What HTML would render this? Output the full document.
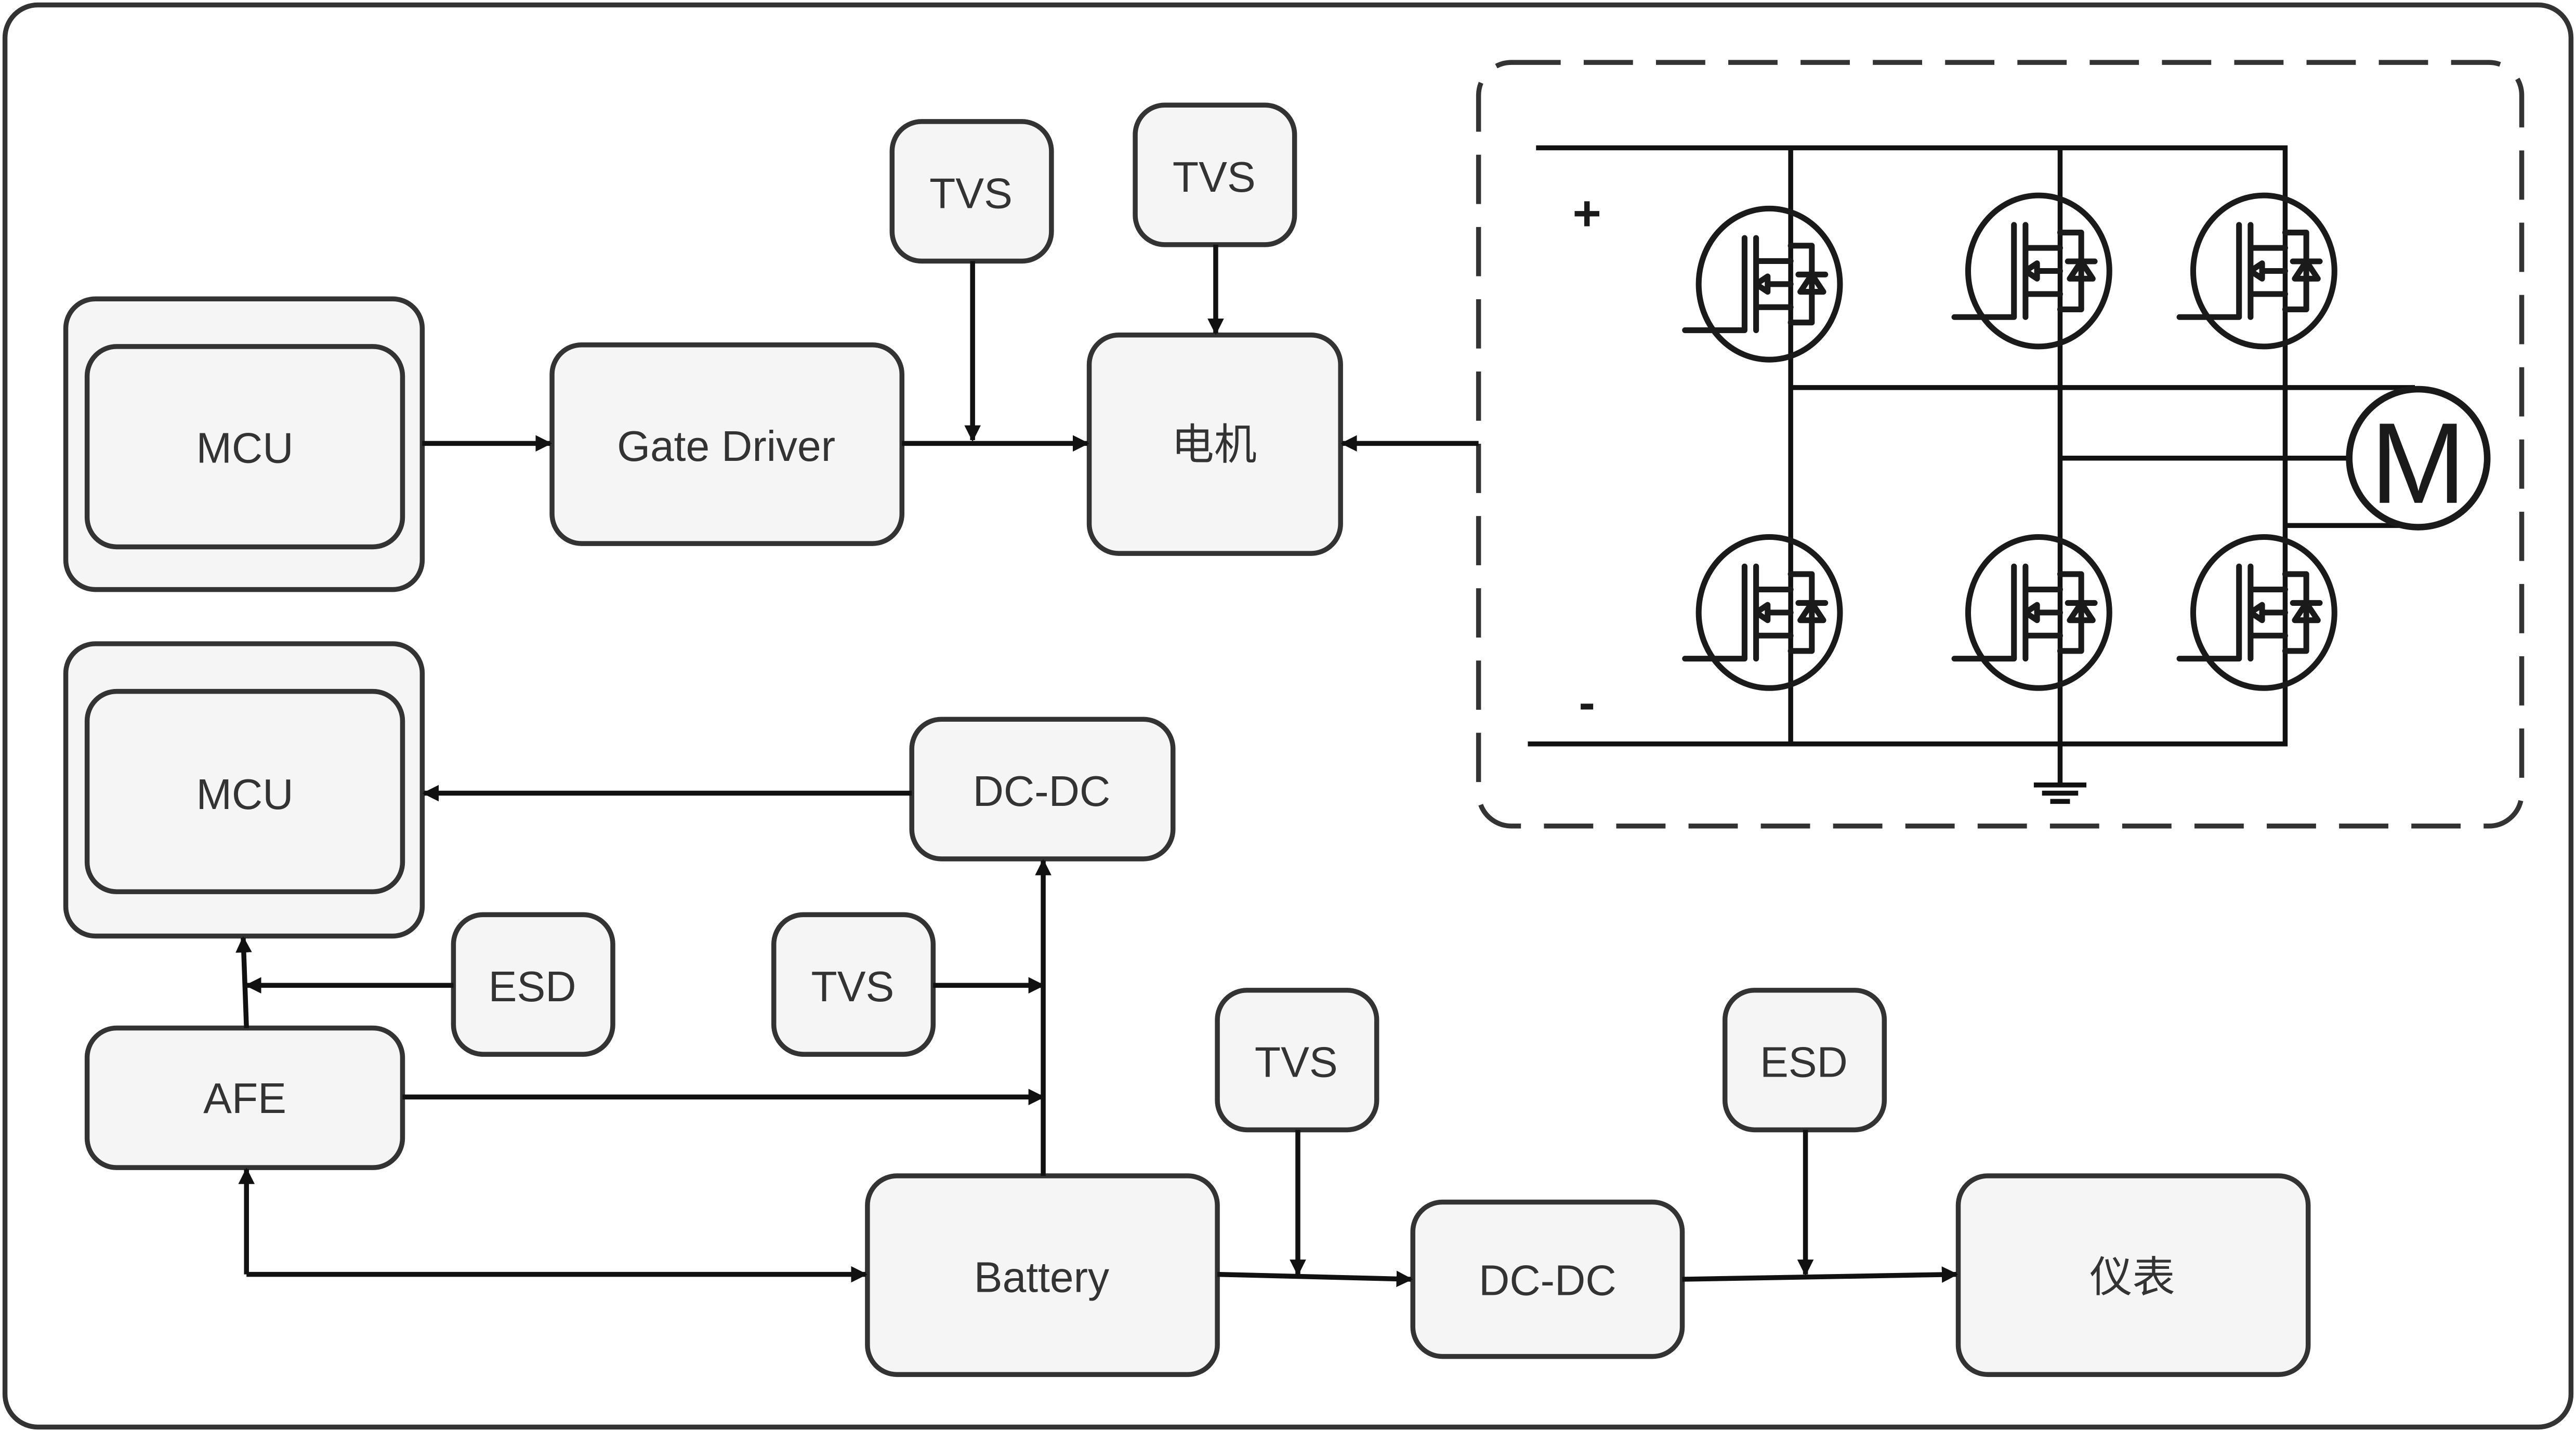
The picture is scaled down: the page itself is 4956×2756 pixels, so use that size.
<!DOCTYPE html>
<html><head><meta charset="utf-8"><style>
html,body{margin:0;padding:0;background:#fff;}
svg{display:block;}
text{font-family:"Liberation Sans","Noto Sans CJK SC",sans-serif;fill:#333;font-size:26px;text-anchor:middle;dominant-baseline:central;}
.b{fill:#f5f5f5;stroke:#333;stroke-width:3;}
.l{stroke:#111;stroke-width:3;fill:none;}
.m{stroke:#1a1a1a;stroke-width:3.5;fill:none;stroke-linecap:round;stroke-linejoin:round;}
.mi{stroke:#1a1a1a;stroke-width:3;fill:none;stroke-linecap:round;stroke-linejoin:round;}
</style></head><body>
<svg width="4956" height="2756" viewBox="0 0 1568 872" xmlns="http://www.w3.org/2000/svg">
<defs>
<marker id="a" markerWidth="10" markerHeight="10" refX="9" refY="5" orient="auto" markerUnits="userSpaceOnUse" viewBox="0 0 10 10">
<path d="M0,0 L10,5 L0,10 z" fill="#111"/></marker>
<g id="fet">
<ellipse cx="-13" cy="0" rx="43" ry="46" class="m"/>
<g transform="scale(1.17)">
<path class="mi" d="M-55,24 H-24 V-24 M-18,-24 V24 M-18,-12 H0 M-18,12 H0 M0,0 H-12 M-18,0 L-12,-4 L-12,4 Z M0,-20 H11 V20 H0 M4,-5 H18 M11,-5 L5,4 H17 Z"/>
</g>
</g>
</defs>
<rect x="3" y="3" width="1562" height="866" rx="20" fill="#fff" stroke="#333" stroke-width="3"/>
<rect x="900" y="38" width="635" height="465" rx="20" fill="none" stroke="#333" stroke-width="3" stroke-dasharray="30 14"/>

<path class="l" d="M935,90 H1391 V453 H930 M1090,90 V453 M1254,90 V453 M1090,236 H1470 M1254,279 H1430 M1391,320 H1470 M1254,453 V478 M1238,478 H1270 M1243,483 H1265 M1248,488 H1260"/>
<use href="#fet" x="1090" y="173"/>
<use href="#fet" x="1254" y="165"/>
<use href="#fet" x="1391" y="165"/>
<use href="#fet" x="1090" y="373"/>
<use href="#fet" x="1254" y="373"/>
<use href="#fet" x="1391" y="373"/>
<circle cx="1472" cy="279" r="42" fill="#fff" stroke="#1a1a1a" stroke-width="4"/>
<text x="1472" y="282" style="font-size:70px;fill:#1a1a1a">M</text>
<text x="966" y="130" style="font-size:30px;fill:#1a1a1a;font-weight:bold">+</text>
<text x="966" y="428" style="font-size:30px;fill:#1a1a1a;font-weight:bold">-</text>

<rect class="b" x="40" y="182" width="217" height="177" rx="18"/>
<rect class="b" x="53" y="211" width="192" height="122" rx="18"/>
<text x="149" y="273">MCU</text>
<rect class="b" x="336" y="210" width="213" height="121" rx="18"/><text x="442" y="272">Gate Driver</text>
<rect class="b" x="543" y="74" width="97" height="85" rx="18"/><text x="591" y="118">TVS</text>
<rect class="b" x="691" y="64" width="97" height="85" rx="18"/><text x="739" y="108">TVS</text>
<rect class="b" x="663" y="204" width="153" height="133" rx="18"/><text x="739" y="271">电机</text>
<rect class="b" x="40" y="392" width="217" height="178" rx="18"/>
<rect class="b" x="53" y="421" width="192" height="122" rx="18"/>
<text x="149" y="484">MCU</text>
<rect class="b" x="555" y="438" width="159" height="85" rx="18"/><text x="634" y="482">DC-DC</text>
<rect class="b" x="276" y="557" width="97" height="85" rx="18"/><text x="324" y="601">ESD</text>
<rect class="b" x="471" y="557" width="97" height="85" rx="18"/><text x="519" y="601">TVS</text>
<rect class="b" x="53" y="626" width="192" height="85" rx="18"/><text x="149" y="669">AFE</text>
<rect class="b" x="741" y="603" width="97" height="85" rx="18"/><text x="789" y="647">TVS</text>
<rect class="b" x="1050" y="603" width="97" height="85" rx="18"/><text x="1098" y="647">ESD</text>
<rect class="b" x="528" y="716" width="213" height="121" rx="18"/><text x="634" y="778">Battery</text>
<rect class="b" x="860" y="732" width="164" height="94" rx="18"/><text x="942" y="780">DC-DC</text>
<rect class="b" x="1192" y="716" width="213" height="121" rx="18"/><text x="1298" y="778">仪表</text>

<g class="l">
<path d="M257,270 H335" marker-end="url(#a)"/>
<path d="M549,270 H662" marker-end="url(#a)"/>
<path d="M592,159 V268" marker-end="url(#a)"/>
<path d="M740,149 V203" marker-end="url(#a)"/>
<path d="M900,270 H817" marker-end="url(#a)"/>
<path d="M555,483 H258" marker-end="url(#a)"/>
<path d="M276,600 H150" marker-end="url(#a)"/>
<path d="M150,626 L148,571" marker-end="url(#a)"/>
<path d="M568,600 H635" marker-end="url(#a)"/>
<path d="M245,668 H635" marker-end="url(#a)"/>
<path d="M635,716 V524" marker-end="url(#a)"/>
<path d="M150,776 V712" marker-end="url(#a)"/>
<path d="M150,776 H527" marker-end="url(#a)"/>
<path d="M741,776 L859,779" marker-end="url(#a)"/>
<path d="M790,688 V776" marker-end="url(#a)"/>
<path d="M1024,779 L1191,776" marker-end="url(#a)"/>
<path d="M1099,688 V776" marker-end="url(#a)"/>
</g>
</svg>
</body></html>
